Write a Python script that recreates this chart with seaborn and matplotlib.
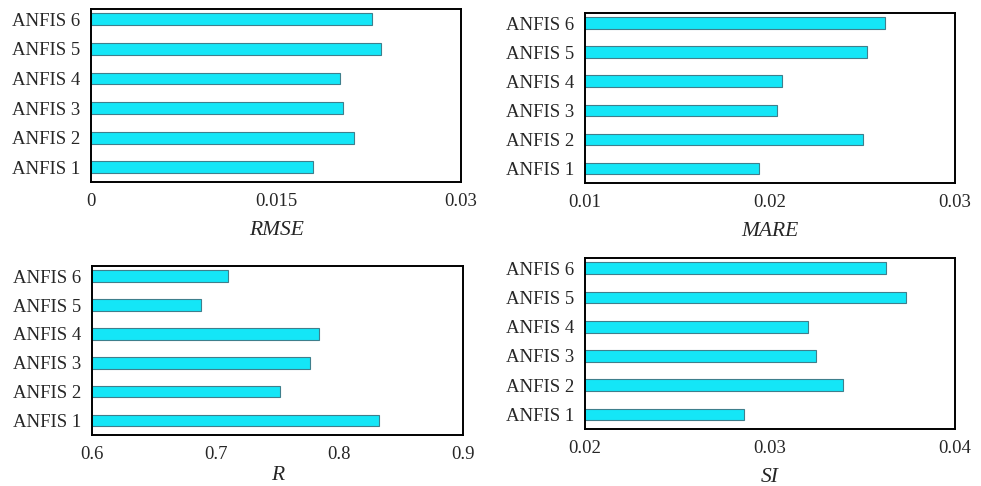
import matplotlib
matplotlib.use('Agg')
import matplotlib.pyplot as plt
import seaborn as sns
import pandas as pd
import numpy as np

# model names, top to bottom as drawn
models = ['ANFIS 6', 'ANFIS 5', 'ANFIS 4', 'ANFIS 3', 'ANFIS 2', 'ANFIS 1']

rmse = [0.02278, 0.02354, 0.02016, 0.02043, 0.02135, 0.01796]
mare = [0.02623, 0.02524, 0.02065, 0.02038, 0.02503, 0.01939]
r_vals = [0.7103, 0.6885, 0.7832, 0.7765, 0.7520, 0.8319]
si = [0.03628, 0.03736, 0.03206, 0.03247, 0.03394, 0.02859]

rmse_ticks = [0, 0.015, 0.03]
rmse_labels = ['0', '0.015', '0.03']
mare_ticks = [0.01, 0.02, 0.03]
mare_labels = ['0.01', '0.02', '0.03']
r_ticks = [0.6, 0.7, 0.8, 0.9]
r_labels = ['0.6', '0.7', '0.8', '0.9']
si_ticks = [0.02, 0.03, 0.04]
si_labels = ['0.02', '0.03', '0.04']

BAR_COLOR = '#14E6F7'
EDGE_COLOR = '#3F7F8C'


def setup_style():
    sns.set_style("white")
    plt.rcParams.update({
        'font.family': ['Liberation Serif', 'DejaVu Serif'],
        'font.size': 13.5,
        'axes.edgecolor': 'black',
        'axes.linewidth': 1.4,
        'figure.facecolor': 'white',
    })


def draw_panel(fig, rect, values, name, ticks, labels, labelpad=8):
    ax = fig.add_axes(rect)
    df = pd.DataFrame({'model': models, 'value': values})
    sns.barplot(data=df, x='value', y='model', order=models, orient='h',
                color=BAR_COLOR, edgecolor=EDGE_COLOR, linewidth=0.8,
                width=0.4, saturation=1, ax=ax)
    ax.set_xlim(ticks[0], ticks[-1])
    ax.set_ylim(5.5, -0.35)
    ax.set_xticks(ticks)
    ax.set_xticklabels(labels)
    ax.set_xlabel(name, fontstyle='italic', fontsize=15.5, labelpad=labelpad)
    ax.set_ylabel('')
    # category boundary marks on the left side
    ax.set_yticks(np.arange(len(models)) + 0.5, minor=True)
    ax.tick_params(axis='y', which='major', length=0, pad=8, labelsize=13.5)
    ax.tick_params(axis='y', which='minor', length=3, direction='out',
                   color='#999999', width=0.8)
    ax.tick_params(axis='x', which='major', length=3, direction='in',
                   pad=8, labelsize=13.5)
    for s in ax.spines.values():
        s.set_visible(True)
        s.set_color('black')
    return ax


def main():
    setup_style()
    fig = plt.figure(figsize=(9.81, 4.86), dpi=100)

    draw_panel(fig, [0.0928, 0.6255, 0.3772, 0.3560], rmse, 'RMSE', rmse_ticks, rmse_labels)
    draw_panel(fig, [0.5963, 0.6235, 0.3772, 0.3498], mare, 'MARE', mare_ticks, mare_labels)
    draw_panel(fig, [0.0938, 0.1049, 0.3782, 0.3477], r_vals, 'R', r_ticks, r_labels, labelpad=2)
    draw_panel(fig, [0.5963, 0.1173, 0.3772, 0.3519], si, 'SI', si_ticks, si_labels)

    fig.savefig('out.png', dpi=100, facecolor='white')
    plt.close(fig)


if __name__ == "__main__":
    main()
